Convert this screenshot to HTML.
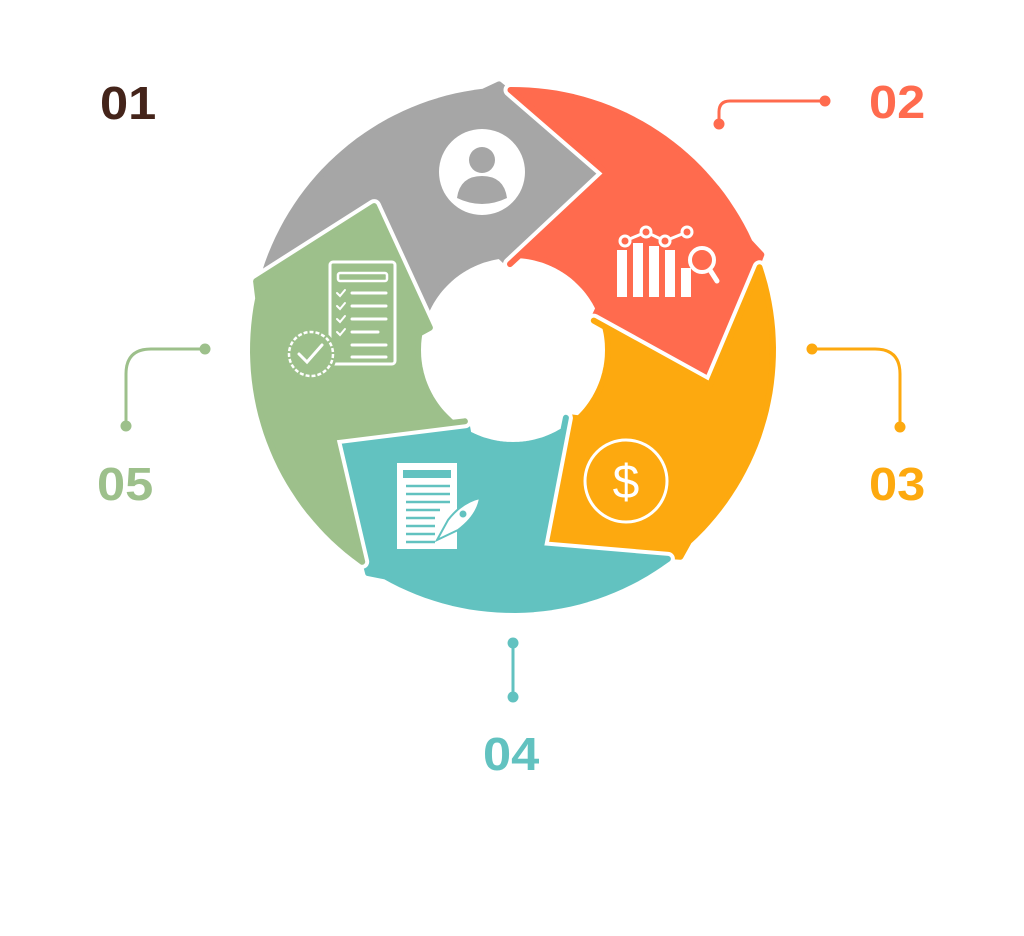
<!DOCTYPE html>
<html><head><meta charset="utf-8">
<style>
html,body{margin:0;padding:0;background:#fff;}
body{width:1024px;height:936px;overflow:hidden;position:relative;font-family:"Liberation Sans",sans-serif;}
.lb{position:absolute;font-weight:bold;font-size:46px;line-height:46px;letter-spacing:0px;transform:scaleX(1.1);transform-origin:left top;}
</style></head>
<body>
<svg id="s" width="1024" height="936" viewBox="0 0 1024 936" style="position:absolute;left:0;top:0">
<g id="segs"></g>
<g fill="none" stroke-width="3" stroke-linecap="round">
<path d="M719 124 V112 Q719 101 730 101 H825" stroke="#ff6b4e"/>
<path d="M812 349 H875 Q900 349 900 374 V427" stroke="#fda90f"/>
<path d="M513 643 V697" stroke="#62c2c0"/>
<path d="M205 349 H151 Q126 349 126 374 V426" stroke="#9dc08b"/>
</g>
<circle cx="719" cy="124" r="5.5" fill="#ff6b4e"/><circle cx="825" cy="101" r="5.5" fill="#ff6b4e"/>
<circle cx="812" cy="349" r="5.5" fill="#fda90f"/><circle cx="900" cy="427" r="5.5" fill="#fda90f"/>
<circle cx="513" cy="643" r="5.5" fill="#62c2c0"/><circle cx="513" cy="697" r="5.5" fill="#62c2c0"/>
<circle cx="205" cy="349" r="5.5" fill="#9dc08b"/><circle cx="126" cy="426" r="5.5" fill="#9dc08b"/>
<circle cx="482" cy="172" r="43" fill="#fff"/>
<circle cx="482" cy="160" r="13" fill="#a6a6a6"/>
<path d="M457 198 Q460 176 482 176 Q504 176 507 198 Q482 210 457 198Z" fill="#a6a6a6"/>
<g fill="#fff">
<rect x="617" y="250" width="10" height="47"/><rect x="633" y="243" width="10" height="54"/>
<rect x="649" y="246" width="10" height="51"/><rect x="665" y="250" width="10" height="47"/>
<rect x="681" y="268" width="10" height="29"/>
</g>
<g fill="none" stroke="#fff" stroke-width="3">
<polyline points="625,241 646,232 665,241 687,232"/>
<circle cx="625" cy="241" r="5" fill="#ff6b4e"/><circle cx="646" cy="232" r="5" fill="#ff6b4e"/>
<circle cx="665" cy="241" r="5" fill="#ff6b4e"/><circle cx="687" cy="232" r="5" fill="#ff6b4e"/>
<circle cx="702" cy="260" r="12" fill="#ff6b4e" stroke-width="4"/>
<line x1="710" y1="270" x2="717" y2="281" stroke-width="5" stroke-linecap="round"/>
</g>
<circle cx="626" cy="481" r="41" fill="none" stroke="#fff" stroke-width="3"/>
<text x="626" y="498" text-anchor="middle" font-family="Liberation Sans" font-size="48" fill="#fff">$</text>
<rect x="397" y="463" width="60" height="86" fill="#fff"/>
<rect x="403" y="470" width="48" height="8" fill="#62c2c0"/>
<g stroke="#62c2c0" stroke-width="2.5">
<line x1="406" y1="486" x2="450" y2="486"/><line x1="406" y1="494" x2="450" y2="494"/>
<line x1="406" y1="502" x2="450" y2="502"/><line x1="406" y1="510" x2="440" y2="510"/>
<line x1="406" y1="518" x2="435" y2="518"/><line x1="406" y1="526" x2="435" y2="526"/>
<line x1="406" y1="534" x2="435" y2="534"/><line x1="406" y1="542" x2="435" y2="542"/>
</g>
<path d="M437 540 L448 520 Q462 502 480 498 Q477 516 458 530 Z" fill="#fff" stroke="#62c2c0" stroke-width="2"/>
<circle cx="463" cy="514" r="3.5" fill="#62c2c0"/>
<rect x="330" y="262" width="65" height="102" rx="3" fill="none" stroke="#fff" stroke-width="3"/>
<rect x="338" y="273" width="49" height="8" rx="2" fill="none" stroke="#fff" stroke-width="2.5"/>
<g stroke="#fff" stroke-width="3" fill="none" stroke-linecap="round">
<line x1="352" y1="293" x2="386" y2="293"/><line x1="352" y1="306" x2="386" y2="306"/>
<line x1="352" y1="319" x2="386" y2="319"/><line x1="352" y1="332" x2="378" y2="332"/>
<line x1="352" y1="345" x2="386" y2="345"/><line x1="352" y1="357" x2="386" y2="357"/>
<polyline points="337,293 340,296 345,290" stroke-width="2"/><polyline points="337,306 340,309 345,303" stroke-width="2"/>
<polyline points="337,319 340,322 345,316" stroke-width="2"/><polyline points="337,332 340,335 345,329" stroke-width="2"/>
</g>
<circle cx="311" cy="354" r="26" fill="#9dc08b"/>
<circle cx="311" cy="354" r="22" fill="none" stroke="#fff" stroke-width="2.5" stroke-dasharray="4 2"/>
<polyline points="299,354 307,362 322,345" fill="none" stroke="#fff" stroke-width="3" stroke-linecap="round"/>
</svg>
<div class="lb" style="left:100px;top:80px;color:#44241a">01</div>
<div class="lb" style="left:869px;top:79px;color:#ff6b4e">02</div>
<div class="lb" style="left:869px;top:461px;color:#fda90f">03</div>
<div class="lb" style="left:483px;top:731px;color:#62c2c0">04</div>
<div class="lb" style="left:97px;top:461px;color:#9dc08b">05</div>
<script>
(function(){
var cx=513,cy=350,R=260;
function P(a,r){var t=a*Math.PI/180;return [cx+r*Math.sin(t),cy-r*Math.cos(t)];}
function ang(p){return Math.atan2(p[0]-cx,-(p[1]-cy))*180/Math.PI;}
function f(p){return p[0].toFixed(1)+" "+p[1].toFixed(1);}
var b=[286,358,430,502,574];
var cols=["#a6a6a6","#ff6b4e","#fda90f","#62c2c0","#9dc08b"];
var g=document.getElementById("segs");
var rin=95,rtip=200,rout=266,rk=86;
var html="";
for(var i=0;i<5;i++){
 var bs=b[i],be=b[(i+1)%5]; if(be<bs) be+=360;
 var tipS=P(bs+30,rtip), outS=P(bs,rout), inS=P(bs,rk);
 var lo=0,hi=1;
 for(var k=0;k<40;k++){var m=(lo+hi)/2;var q=[tipS[0]+(outS[0]-tipS[0])*m,tipS[1]+(outS[1]-tipS[1])*m];var r=Math.hypot(q[0]-cx,q[1]-cy);if(r<R)lo=m;else hi=m;}
 var q=[tipS[0]+(outS[0]-tipS[0])*lo,tipS[1]+(outS[1]-tipS[1])*lo];
 var a0=ang(q); while(a0<bs-5)a0+=360; while(a0>bs+40)a0-=360;
 var d="M"+f(inS)+" L"+f(tipS)+" L"+f(q);
 for(var a=a0+2;a<=be-3;a+=2){ d+=" L"+f(P(a,R)); }
 d+=" L"+f(P(be-1,rout))+" L"+f(P(be+30,rtip))+" L"+f(P(be-1,rk));
 for(var a=be-6;a>=bs+6;a-=2){ d+=" L"+f(P(a,rin)); }
 d+=" Z";
 html+='<path d="'+d+'" fill="'+cols[i]+'" stroke="#fff" stroke-width="14" stroke-linejoin="round"/>';
 html+='<path d="'+d+'" fill="'+cols[i]+'" stroke="'+cols[i]+'" stroke-width="6" stroke-linejoin="round"/>';
}
g.innerHTML=html;
})();
</script>
</body></html>
